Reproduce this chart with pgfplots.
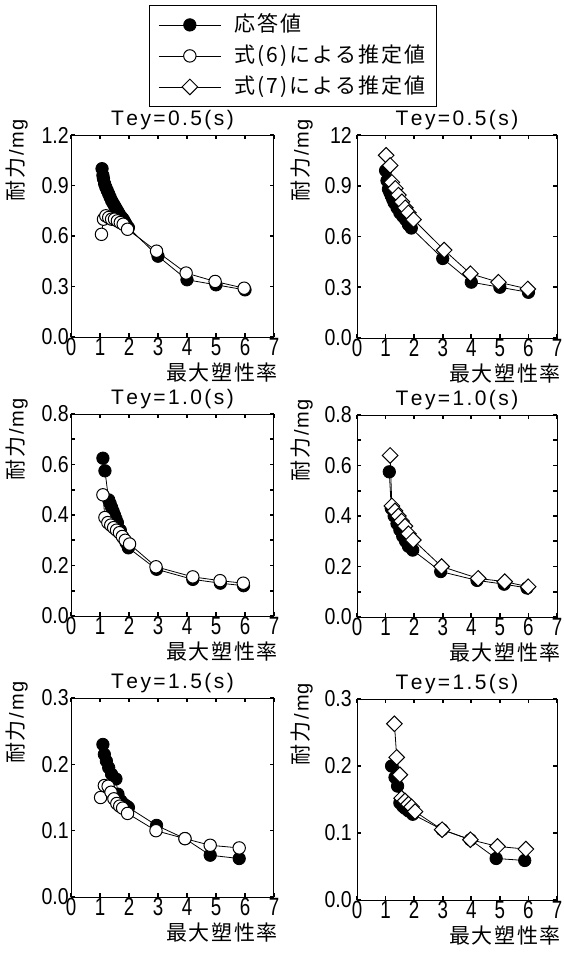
\documentclass[border=0pt]{standalone}
\usepackage{fontspec}
\usepackage{pgfplots}
\pgfplotsset{compat=1.18}
\setmainfont{Liberation Sans}
\newfontfamily\tickf[FakeStretch=0.85]{Liberation Sans}
\newfontfamily\xtickf[FakeStretch=0.75]{Liberation Sans}
\newfontfamily\titlef{Liberation Sans}
\newfontfamily\labf{Liberation Sans}
\newfontfamily\cjk[LetterSpace=8]{Noto Sans CJK JP}
\newfontfamily\cjkl[LetterSpace=10]{Noto Sans CJK JP}

\newcommand{\gp}{\kern2.4pt}
\newcommand{\ttl}[3]{\titlef\fontsize{21}{21}\selectfont T\gp e\gp y\gp =\gp #1\gp .\gp #2\gp (\gp s\gp )}

\pgfplotsset{
  resp/.style={black, line width=0.8pt, mark=*, mark size=6.2pt, mark options={solid, fill=black}},
  eqsix/.style={black, line width=0.8pt, mark=*, mark size=6.2pt, mark options={solid, fill=white, line width=1pt}},
  eqseven/.style={black, line width=0.8pt, mark=square*, mark size=5.5pt, mark options={solid, fill=white, rotate=45, line width=1pt}},
  panel/.style={
    scale only axis,
    xmin=0, xmax=7,
    xtick={0,1,2,3,4,5,6,7},
    xticklabels={0,1,2,3,4,5,6,7},
    xtick pos=both, ytick pos=both,
    xticklabel pos=lower, yticklabel pos=left,
    tick align=inside,
    major tick length=4pt, minor tick length=4pt,
    every tick/.style={black, line width=1.6pt},
    axis line style={line width=1pt},
    /pgf/number format/assume math mode=true,
    yticklabel style={font=\tickf\fontsize{23}{23}\selectfont, inner sep=1pt},
    xticklabel style={font=\xtickf\fontsize{25}{25}\selectfont, inner sep=1pt},
    title style={at={(axis description cs:0.5,1)}, anchor=base, yshift=4pt, inner sep=0pt},
    xlabel={\cjk 最大塑性率},
    xlabel style={font=\cjk\fontsize{21}{21}\selectfont, at={(axis description cs:1,0)}, anchor=north east, xshift=4pt, yshift=-26pt, inner sep=0pt},
    ylabel={{\cjk\fontsize{21}{21}\selectfont 耐力}{\labf\fontsize{20}{20}\selectfont \kern2pt/\kern2pt m\kern1pt g}},
    ylabel style={at={(axis description cs:-0.266,0.875)}, anchor=center, inner sep=0pt},
  },
  leftp/.style={panel, width=203pt, yticklabel style={xshift=-1pt}},
  rightp/.style={panel, width=200pt, yticklabel style={xshift=-4pt}, ylabel style={at={(axis description cs:-0.275,0.875)}}},
  row12/.style={ymin=0, ymax=1.2, ytick={0,0.3,0.6,0.9,1.2}},
  row08/.style={ymin=0, ymax=0.8, ytick={0,0.2,0.4,0.6,0.8}, yticklabels={0.0,0.2,0.4,0.6,0.8}, minor ytick={0.1,0.3,0.5,0.7}},
  row03/.style={ymin=0, ymax=0.3, ytick={0,0.1,0.2,0.3}, yticklabels={0.0,0.1,0.2,0.3}},
}

\begin{document}
\begin{tikzpicture}
\path[use as bounding box] (0,0) rectangle (564pt,-961pt);

% Tey = 0.5 s, eq (6)
\begin{axis}[leftp, row12, height=202pt, at={(71pt,-337pt)}, anchor=south west,
    yticklabels={0.0,0.3,0.6,0.9,1.2},
    title={\ttl{0}{5}{}},
    legend image code/.code={\draw[mark repeat=2,mark phase=2,#1] plot coordinates {(0pt,0pt) (31pt,0pt) (62pt,0pt)};},
    legend style={at={(axis description cs:0.384,1.644)}, anchor=north west, draw=black, line width=1pt,
      font=\cjkl\fontsize{21}{25}\selectfont, inner xsep=9pt, inner ysep=7pt, row sep=6pt, column sep=11pt,
      nodes={inner sep=2pt, text height=17pt, text depth=4pt}},
    legend cell align=left]
\addplot[resp] coordinates {(1.07,1.00) (1.1,0.96) (1.12,0.94) (1.16,0.91) (1.2,0.89) (1.25,0.87) (1.3,0.85) (1.35,0.83) (1.4,0.81) (1.45,0.795) (1.5,0.78) (1.55,0.765) (1.6,0.75) (1.65,0.735) (1.7,0.72) (1.75,0.71) (1.8,0.70) (1.85,0.685) (1.9,0.67) (1.98,0.65) (3,0.48) (4,0.34) (5,0.31) (6,0.28)};
\addlegendentry{応答値}
\addplot[eqsix] coordinates {(1.05,0.61) (1.12,0.70) (1.2,0.72) (1.3,0.71) (1.4,0.70) (1.5,0.70) (1.6,0.69) (1.7,0.68) (1.8,0.67) (1.95,0.64) (2.95,0.51) (3.97,0.38) (4.97,0.33) (5.97,0.29)};
\addlegendentry{式(6)による推定値}
\addlegendimage{eqseven}
\addlegendentry{式(7)による推定値}
\end{axis}

% Tey = 0.5 s, eq (7)
\begin{axis}[rightp, row12, height=203pt, at={(357pt,-338pt)}, anchor=south west,
    yticklabels={0.0,0.3,0.6,0.9,12},
    title={\ttl{0}{5}{}}]
\addplot[resp] coordinates {(1.0,0.99) (1.05,0.93) (1.1,0.88) (1.15,0.86) (1.2,0.84) (1.25,0.82) (1.3,0.80) (1.4,0.77) (1.5,0.74) (1.6,0.72) (1.7,0.70) (1.8,0.67) (1.9,0.65) (3,0.47) (4,0.33) (5,0.30) (6,0.27)};
\addplot[eqseven] coordinates {(1.02,1.08) (1.16,1.02) (1.22,0.92) (1.34,0.885) (1.45,0.845) (1.57,0.805) (1.69,0.77) (1.8,0.74) (1.98,0.70) (3.05,0.52) (3.97,0.38) (4.95,0.33) (5.98,0.29)};
\end{axis}

% Tey = 1.0 s, eq (6)
\begin{axis}[leftp, row08, height=202pt, at={(71pt,-616pt)}, anchor=south west,
    title={\ttl{1}{0}{}}]
\addplot[resp] coordinates {(1.1,0.625) (1.17,0.575) (1.3,0.46) (1.35,0.445) (1.4,0.43) (1.45,0.415) (1.5,0.40) (1.55,0.385) (1.6,0.37) (1.7,0.34) (1.8,0.31) (1.9,0.29) (1.98,0.27) (2.95,0.185) (4.2,0.145) (5.15,0.13) (5.95,0.12)};
\addplot[eqsix] coordinates {(1.1,0.48) (1.17,0.39) (1.27,0.37) (1.37,0.36) (1.47,0.35) (1.57,0.34) (1.67,0.33) (1.77,0.315) (1.87,0.30) (2.02,0.285) (2.93,0.195) (4.2,0.155) (5.14,0.14) (5.94,0.13)};
\end{axis}

% Tey = 1.0 s, eq (7)
\begin{axis}[rightp, row08, height=202pt, at={(357pt,-617pt)}, anchor=south west,
    title={\ttl{1}{0}{}}]
\addplot[resp] coordinates {(1.13,0.575) (1.2,0.43) (1.3,0.40) (1.4,0.37) (1.5,0.345) (1.6,0.32) (1.7,0.30) (1.8,0.28) (1.95,0.265) (2.93,0.18) (4.2,0.145) (5.15,0.13) (5.95,0.115)};
\addplot[eqseven] coordinates {(1.16,0.64) (1.22,0.44) (1.33,0.42) (1.45,0.40) (1.56,0.38) (1.68,0.36) (1.8,0.33) (1.97,0.305) (2.96,0.20) (4.24,0.153) (5.17,0.14) (5.99,0.12)};
\end{axis}

% Tey = 1.5 s, eq (6)
\begin{axis}[leftp, row03, height=199pt, at={(71pt,-897pt)}, anchor=south west,
    title={\ttl{1}{5}{}}]
\addplot[resp] coordinates {(1.1,0.23) (1.15,0.215) (1.22,0.205) (1.3,0.195) (1.4,0.185) (1.55,0.178) (1.62,0.155) (1.72,0.145) (1.82,0.14) (1.92,0.137) (1.98,0.135) (2.95,0.108) (3.93,0.088) (4.8,0.063) (5.8,0.058)};
\addplot[eqsix] coordinates {(1.02,0.15) (1.15,0.168) (1.28,0.167) (1.38,0.158) (1.48,0.148) (1.58,0.141) (1.68,0.137) (1.78,0.134) (1.95,0.126) (2.93,0.10) (3.93,0.088) (4.8,0.078) (5.8,0.074)};
\end{axis}

% Tey = 1.5 s, eq (7)
\begin{axis}[rightp, row03, height=201pt, at={(357pt,-900pt)}, anchor=south west,
    title={\ttl{1}{5}{}}]
\addplot[resp] coordinates {(1.21,0.20) (1.33,0.183) (1.42,0.17) (1.5,0.145) (1.6,0.14) (1.68,0.137) (1.8,0.133) (1.95,0.128) (2.98,0.105) (3.97,0.09) (4.87,0.062) (5.87,0.059)};
\addplot[eqseven] coordinates {(1.31,0.263) (1.39,0.213) (1.5,0.187) (1.56,0.152) (1.68,0.148) (1.8,0.143) (1.91,0.139) (2.03,0.132) (2.98,0.105) (3.97,0.09) (4.92,0.08) (5.91,0.076)};
\end{axis}
\end{tikzpicture}
\end{document}
